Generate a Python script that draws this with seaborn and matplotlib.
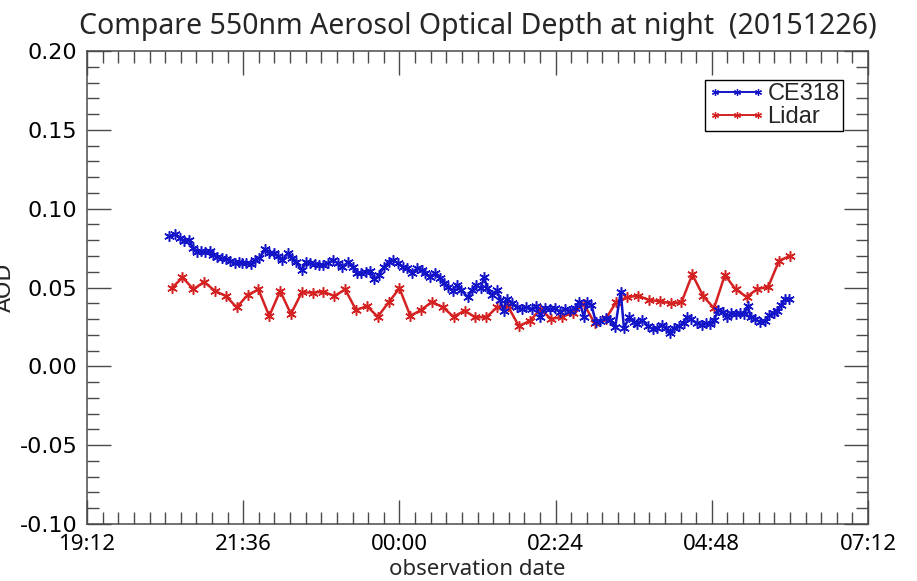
import matplotlib
matplotlib.use("Agg")
import matplotlib.pyplot as plt
import matplotlib.dates as mdates
from matplotlib.lines import Line2D
from matplotlib.ticker import MultipleLocator, FormatStrFormatter
import numpy as np
import pandas as pd
import seaborn as sns

# ---------------------------------------------------------------------------
# Night of 2015-12-26: 550 nm aerosol optical depth, times in minutes after 20:00
# ---------------------------------------------------------------------------
night_start = "2015-12-26 20:00"

ce318_minutes = [
    28, 33, 38, 41, 46, 50, 53, 57, 61, 65, 68, 72, 76, 80, 84, 88, 92, 95, 99, 103,
    107, 111, 116, 120, 124, 128, 132, 137, 141, 145, 150, 154, 158, 162, 166, 170,
    174, 179, 183, 187, 193, 197, 201, 205, 209, 213, 217, 221, 226, 230, 234, 239,
    243, 247, 252, 256, 261, 264, 268, 273, 277, 281, 285, 289, 293, 297, 303, 307,
    311, 315, 318, 321, 325, 330, 333, 336, 339, 344, 348, 353, 357, 362, 366, 370,
    374, 379, 383, 388, 393, 397, 402, 406, 410, 413, 417, 421, 425, 430, 434, 439,
    444, 447, 452, 456, 459, 464, 469, 474, 477, 482, 486, 489, 493, 498, 502, 505,
    509, 514, 519, 523, 526, 530, 534, 538, 542, 546, 550, 554, 558, 561, 564, 568,
    572, 577, 581, 585, 588, 592, 595, 599,
]
ce318_aod = [
    0.0826, 0.0839, 0.0812, 0.0797, 0.0801, 0.0748, 0.0727, 0.0733, 0.0727, 0.0731,
    0.0706, 0.0695, 0.0685, 0.0679, 0.0670, 0.0653, 0.0663, 0.0657, 0.0653, 0.0649,
    0.0674, 0.0685, 0.0742, 0.0720, 0.0717, 0.0700, 0.0674, 0.0717, 0.0685, 0.0663,
    0.0611, 0.0663, 0.0653, 0.0647, 0.0642, 0.0642, 0.0653, 0.0674, 0.0653, 0.0628,
    0.0663, 0.0632, 0.0594, 0.0590, 0.0600, 0.0606, 0.0552, 0.0579, 0.0632, 0.0663,
    0.0674, 0.0653, 0.0632, 0.0622, 0.0590, 0.0622, 0.0611, 0.0594, 0.0568, 0.0590,
    0.0558, 0.0526, 0.0505, 0.0480, 0.0516, 0.0484, 0.0438, 0.0484, 0.0516, 0.0495,
    0.0568, 0.0495, 0.0452, 0.0484, 0.0420, 0.0353, 0.0425, 0.0400, 0.0374, 0.0362,
    0.0374, 0.0362, 0.0382, 0.0315, 0.0368, 0.0362, 0.0368, 0.0346, 0.0362, 0.0353,
    0.0368, 0.0410, 0.0315, 0.0410, 0.0389, 0.0283, 0.0290, 0.0304, 0.0294, 0.0251,
    0.0473, 0.0241, 0.0315, 0.0283, 0.0268, 0.0294, 0.0256, 0.0235, 0.0241, 0.0262,
    0.0241, 0.0213, 0.0241, 0.0256, 0.0277, 0.0311, 0.0298, 0.0273, 0.0262, 0.0273,
    0.0268, 0.0294, 0.0357, 0.0346, 0.0315, 0.0336, 0.0332, 0.0340, 0.0332, 0.0382,
    0.0315, 0.0298, 0.0283, 0.0288, 0.0325, 0.0340, 0.0353, 0.0389, 0.0425, 0.0425,
]

lidar_minutes = [
    30, 40, 50, 60, 70, 80, 90, 100, 110, 120, 130, 140, 150, 160, 170, 180, 190,
    200, 210, 220, 230, 240, 250, 260, 270, 280, 290, 300, 310, 320, 330, 340, 350,
    360, 370, 380, 390, 400, 410, 420, 430, 440, 450, 460, 470, 480, 490, 500, 510,
    520, 530, 540, 550, 560, 570, 580, 590, 600,
]
lidar_aod = [
    0.0495, 0.0564, 0.0490, 0.0535, 0.0478, 0.0446, 0.0374, 0.0452, 0.0488, 0.0319,
    0.0478, 0.0332, 0.0470, 0.0467, 0.0473, 0.0446, 0.0488, 0.0357, 0.0382, 0.0315,
    0.0405, 0.0495, 0.0321, 0.0357, 0.0410, 0.0374, 0.0315, 0.0353, 0.0311, 0.0311,
    0.0374, 0.0382, 0.0256, 0.0287, 0.0362, 0.0300, 0.0315, 0.0340, 0.0395, 0.0273,
    0.0298, 0.0410, 0.0438, 0.0449, 0.0420, 0.0414, 0.0400, 0.0406, 0.0583, 0.0446,
    0.0368, 0.0579, 0.0488, 0.0441, 0.0490, 0.0505, 0.0670, 0.0700,
]

series_names = ["CE318", "Lidar"]
series_colors = {"CE318": "#1414c8", "Lidar": "#d42222"}

x_start = "2015-12-26 19:12"
x_end = "2015-12-27 07:12"
y_range = (-0.10, 0.20)

title_text = "Compare 550nm Aerosol Optical Depth at night  (20151226)"
x_label = "observation date"
y_label = "AOD"

# ---------------------------------------------------------------------------
base = pd.Timestamp(night_start)
ce318 = pd.DataFrame({
    "time": base + pd.to_timedelta(ce318_minutes, unit="min"),
    "aod": ce318_aod,
})
lidar = pd.DataFrame({
    "time": base + pd.to_timedelta(lidar_minutes, unit="min"),
    "aod": lidar_aod,
})

sns.set_style("ticks")
plt.rcParams["font.family"] = ["DejaVu Sans"]
plt.rcParams["axes.unicode_minus"] = False

fig = plt.figure(figsize=(9.17, 5.81), dpi=100)
ax = fig.add_axes([0.0949, 0.0981, 0.8517, 0.8141])

asterisk = (6, 2, 0)
line_kw = dict(marker=asterisk, markersize=7.5, markeredgewidth=1.1,
               linewidth=1.8, legend=False, ax=ax, errorbar=None)

sns.lineplot(data=lidar, x="time", y="aod", color=series_colors["Lidar"],
             markeredgecolor=series_colors["Lidar"], **line_kw)
sns.lineplot(data=ce318, x="time", y="aod", color=series_colors["CE318"],
             markeredgecolor=series_colors["CE318"], **line_kw)

# axes limits and ticks
t0, t1 = pd.Timestamp(x_start), pd.Timestamp(x_end)
ax.set_xlim(mdates.date2num(t0.to_pydatetime()), mdates.date2num(t1.to_pydatetime()))
major_t = pd.date_range(t0, t1, freq="144min")
minor_t = pd.date_range(t0, t1, freq="864s")
ax.set_xticks(mdates.date2num(major_t.to_pydatetime()))
ax.set_xticks(mdates.date2num(minor_t.to_pydatetime()), minor=True)
ax.xaxis.set_major_formatter(mdates.DateFormatter("%H:%M"))

ax.set_ylim(*y_range)
ax.yaxis.set_major_locator(MultipleLocator(0.05))
ax.yaxis.set_minor_locator(MultipleLocator(0.01))
ax.yaxis.set_major_formatter(FormatStrFormatter("%.2f"))

frame_color = "#4a4a4a"
for sp in ax.spines.values():
    sp.set_visible(True)
    sp.set_color(frame_color)
    sp.set_linewidth(1.1)

ax.tick_params(which="both", direction="in", top=True, right=True,
               color=frame_color, width=1.0)
ax.tick_params(which="major", length=17)
ax.tick_params(which="minor", length=8.6)
ax.tick_params(axis="y", which="major", labelsize=16, pad=7, labelcolor="black")
ax.tick_params(axis="x", which="major", labelsize=16, pad=7, labelcolor="black",
               labelfontfamily="Noto Sans")

ax.set_title(title_text, fontsize=20.5, family="Noto Sans", pad=12)
ax.set_xlabel(x_label, fontsize=16, family="Noto Sans", labelpad=3)
ax.set_ylabel(y_label, fontsize=16, family="DejaVu Sans")
ax.yaxis.set_label_coords(-0.093, 0.5)

handles = [
    Line2D([], [], color=series_colors[n], marker=asterisk, markersize=5,
           markeredgewidth=0.9, markeredgecolor=series_colors[n], linewidth=1.4)
    for n in series_names
]
leg = ax.legend(handles, series_names, loc="upper right",
                bbox_to_anchor=(0.968, 0.939), borderaxespad=0,
                numpoints=3, handlelength=2.4, handletextpad=0.1,
                labelspacing=0.02, borderpad=0.15, fancybox=False,
                framealpha=1, edgecolor="black",
                prop={"family": "Liberation Sans", "size": 17})
leg.get_frame().set_linewidth(1.0)

fig.savefig("out.png", dpi=100)
